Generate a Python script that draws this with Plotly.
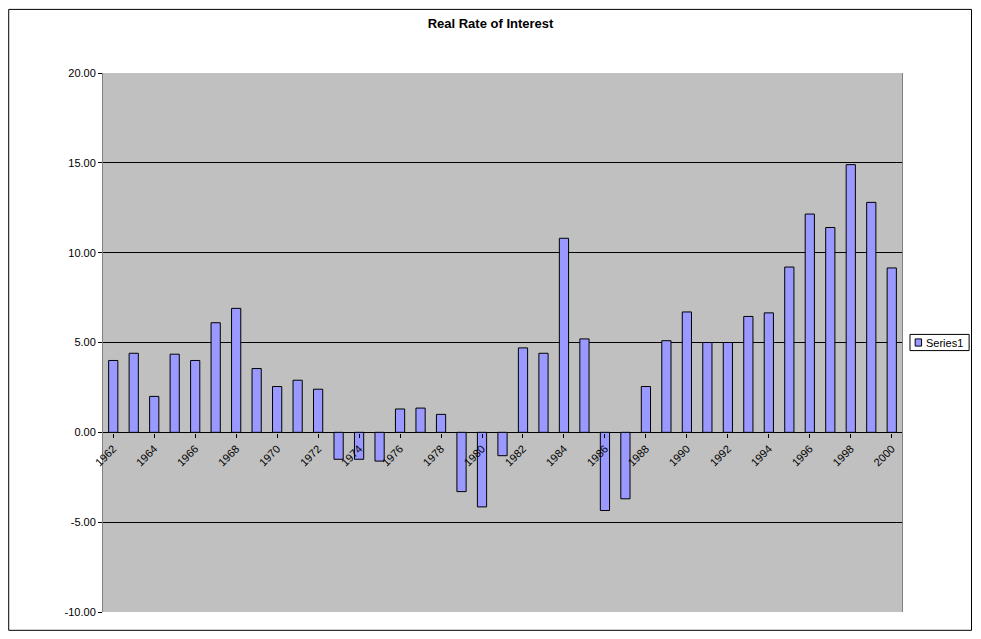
import plotly.graph_objects as go

years = list(range(1962, 2001))
rates = [4.0, 4.4, 2.0, 4.35, 4.0, 6.1, 6.9, 3.55, 2.55, 2.9, 2.4, -1.5, -1.5, -1.6,
         1.3, 1.35, 1.0, -3.3, -4.15, -1.3, 4.7, 4.4, 10.8, 5.2, -4.35, -3.7, 2.55,
         5.1, 6.7, 5.0, 5.0, 6.45, 6.65, 9.2, 12.15, 11.4, 14.9, 12.8, 9.15]
tick_years = [str(y) for y in range(1962, 2001, 2)]
y_ticks = [-10, -5, 0, 5, 10, 15, 20]
y_labels = ["-10.00", "-5.00", "0.00", "5.00", "10.00", "15.00", "20.00"]
series_name = "Series1"
bar_color = "#9999FF"

fig = go.Figure(go.Bar(
    x=years, y=rates, name=series_name, width=0.45,
    marker=dict(color=bar_color, line=dict(color="black", width=1)),
))
fig.update_layout(
    width=965, height=623,
    margin=dict(l=95, r=71, t=65, b=19, autoexpand=False),
    paper_bgcolor="white", plot_bgcolor="#C0C0C0",
    font=dict(family="Arial", size=11, color="black"),
    title=dict(text="<b>Real Rate of Interest</b>", x=0.5, xanchor="center", yref="container", y=0.975,
               yanchor="middle", font=dict(size=13)),
    showlegend=False,
    xaxis=dict(range=[1961.5, 2000.5], tickmode="array", tickvals=list(range(1962, 2001, 2)),
               ticktext=tick_years, tickangle=-45, anchor="free", position=0.332,
               showgrid=False, zeroline=False, showline=False, ticks="outside", ticklen=4, tickcolor="black"),
    yaxis=dict(range=[-10, 20], tickmode="array", tickvals=y_ticks, ticktext=y_labels,
               showgrid=True, gridcolor="black", gridwidth=1,
               zeroline=True, zerolinecolor="black", zerolinewidth=1, showline=True, linecolor="gray",
               mirror=True, ticks="outside", ticklen=4, tickcolor="black"),
    shapes=[
        dict(type="rect", xref="paper", yref="paper", x0=-0.118, x1=1.087, y0=-0.034, y1=1.118,
             line=dict(color="black", width=1)),
        dict(type="rect", xref="paper", yref="y", x0=1.010, x1=1.084, y0=4.55, y1=5.45,
             line=dict(color="black", width=1), fillcolor="white"),
        dict(type="rect", xref="paper", yref="y", x0=1.0165, x1=1.0245, y0=4.8, y1=5.2,
             line=dict(color="black", width=1), fillcolor=bar_color),
    ],
    annotations=[dict(text=series_name, xref="paper", yref="y", x=1.028, y=5.0, xanchor="left",
                      yanchor="middle", showarrow=False, font=dict(size=11))],
)
fig.write_html("out.html")
